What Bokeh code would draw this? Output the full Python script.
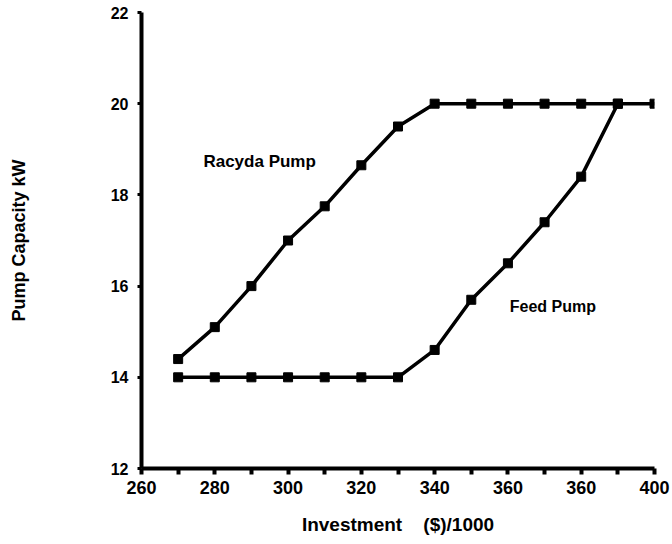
from bokeh.plotting import figure
from bokeh.models import Range1d, FixedTicker, Label
from bokeh.embed import file_html
from bokeh.resources import INLINE

investment = [270, 280, 290, 300, 310, 320, 330, 340, 350, 360, 370, 380, 390, 400]
racyda_capacity = [14.4, 15.1, 16.0, 17.0, 17.75, 18.65, 19.5, 20.0, 20.0, 20.0, 20.0, 20.0, 20.0, 20.0]
feed_investment = [270, 280, 290, 300, 310, 320, 330, 340, 350, 360, 370, 380, 390]
feed_capacity = [14.0, 14.0, 14.0, 14.0, 14.0, 14.0, 14.0, 14.6, 15.7, 16.5, 17.4, 18.4, 20.0]
x_ticks = [260, 270, 280, 290, 300, 310, 320, 330, 340, 350, 360, 370, 380, 390, 400]
x_labels = {260: "260", 280: "280", 300: "300", 320: "320", 340: "340", 360: "360", 380: "360", 400: "400"}
y_ticks = [12, 14, 16, 18, 20, 22]

FONT = "Liberation Sans"

p = figure(width=672, height=544, output_backend="svg", toolbar_location=None,
           x_range=Range1d(260, 400), y_range=Range1d(12, 22),
           min_border_left=141, min_border_right=18, min_border_top=12, min_border_bottom=76)
p.outline_line_color = None
p.grid.visible = False
p.background_fill_color = "white"
p.border_fill_color = "white"

p.line(investment, racyda_capacity, line_color="black", line_width=3.5)
p.scatter(investment, racyda_capacity, marker="square", size=9, color="black")
p.line(feed_investment, feed_capacity, line_color="black", line_width=3.5)
p.scatter(feed_investment, feed_capacity, marker="square", size=9, color="black")

overrides = {t: x_labels.get(t, "") for t in x_ticks}
p.xaxis.ticker = FixedTicker(ticks=x_ticks)
p.xaxis.major_label_overrides = overrides
p.yaxis.ticker = FixedTicker(ticks=y_ticks)

p.axis.axis_line_width = 4
p.axis.axis_line_color = "black"
p.axis.major_tick_line_width = 4
p.axis.major_tick_line_color = "black"
p.axis.major_tick_out = 6
p.axis.major_tick_in = 0
p.axis.minor_tick_line_color = None
p.axis.major_label_text_font = FONT
p.axis.major_label_text_font_style = "bold"
p.axis.major_label_text_color = "black"
p.axis.axis_label_text_font = FONT
p.axis.axis_label_text_font_style = "bold"
p.axis.axis_label_text_color = "black"

p.xaxis.major_label_text_font_size = "18px"
p.yaxis.major_label_text_font_size = "16px"
p.xaxis.major_label_standoff = 6
p.yaxis.major_label_standoff = 9
p.yaxis.major_tick_line_width = 3
p.yaxis.major_tick_out = 4

p.xaxis.axis_label = "Investment\u00a0\u00a0\u00a0\u00a0($)/1000"
p.xaxis.axis_label_text_font_size = "19px"
p.xaxis.axis_label_standoff = 17
p.yaxis.axis_label = "Pump Capacity kW"
p.yaxis.axis_label_text_font_size = "18px"
p.yaxis.axis_label_standoff = 79

p.add_layout(Label(x=276.9, y=18.73, text="Racyda Pump", text_font=FONT, text_font_style="bold",
                   text_font_size="17px", text_color="black", text_baseline="middle"))
p.add_layout(Label(x=360.5, y=15.55, text="Feed Pump", text_font=FONT, text_font_style="bold",
                   text_font_size="16px", text_color="black", text_baseline="middle"))

open("out.html", "w").write(file_html(p, INLINE))
